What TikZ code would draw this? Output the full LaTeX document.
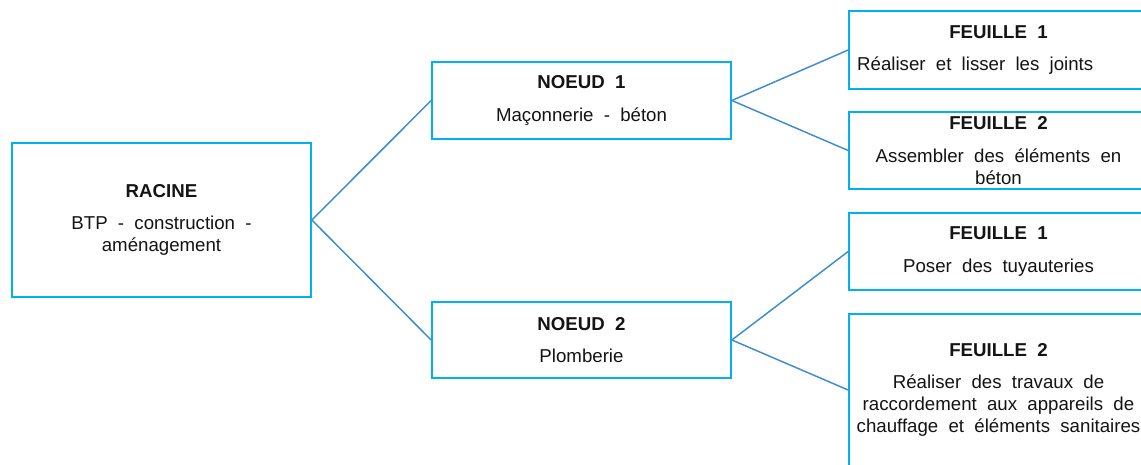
\documentclass[tikz,border=0pt]{standalone}
\usepackage{fontspec}
\setmainfont{Liberation Sans}
\usepackage{tikz}
\definecolor{boxblue}{RGB}{0,176,240}
\definecolor{linkblue}{RGB}{62,140,208}
\definecolor{inkgray}{RGB}{20,20,20}
\newcommand\boxfont{\fontsize{14}{16.5}\selectfont\spaceskip=0.55em plus 0.1em\relax}

\begin{document}
\begin{tikzpicture}[x=0.75pt, y=-0.75pt,
  box/.style={draw=boxblue, line width=1.5pt, fill=white, text=inkgray, minimum width=224pt, align=center, inner xsep=0pt, font=\boxfont},
  link/.style={draw=linkblue, line width=1.1pt}]
  \useasboundingbox (0,0) rectangle (1141,464);
  \clip (0,0) rectangle (1141,464);
  \node[box, minimum height=115.5pt] (racine) at (161.5,220) {\textbf{RACINE}\\[8pt]BTP - construction -\\am\'enagement};
  \node[box, minimum height=57.75pt] (noeud1) at (581.5,100.5) {\textbf{NOEUD 1}\\[8pt]Ma\c{c}onnerie - b\'eton};
  \node[box, minimum height=57pt] (noeud2) at (581.5,340) {\textbf{NOEUD 2}\\[8pt]Plomberie};
  \node[box, minimum height=58.5pt] (feuille11) at (998.5,50) {\textbf{FEUILLE 1}\\[8pt]\makebox[212pt][l]{R\'ealiser et lisser les joints}};
  \node[box, minimum height=57.75pt] (feuille12) at (998.5,150.5) {\textbf{FEUILLE 2}\\[8pt]Assembler des \'el\'ements en\\b\'eton};
  \node[box, minimum height=57.75pt] (feuille21) at (998.5,251.5) {\textbf{FEUILLE 1}\\[8pt]Poser des tuyauteries};
  \node[box, minimum height=114pt] (feuille22) at (998.5,390) {\textbf{FEUILLE 2}\\[8pt]R\'ealiser des travaux de\\raccordement aux appareils de\\chauffage et \'el\'ements sanitaires};
  \draw[link] (racine.east) -- (noeud1.west);
  \draw[link] (racine.east) -- (noeud2.west);
  \draw[link] (noeud1.east) -- (feuille11.west);
  \draw[link] (noeud1.east) -- (feuille12.west);
  \draw[link] (noeud2.east) -- (feuille21.west);
  \draw[link] (noeud2.east) -- (feuille22.west);
\end{tikzpicture}
\end{document}
